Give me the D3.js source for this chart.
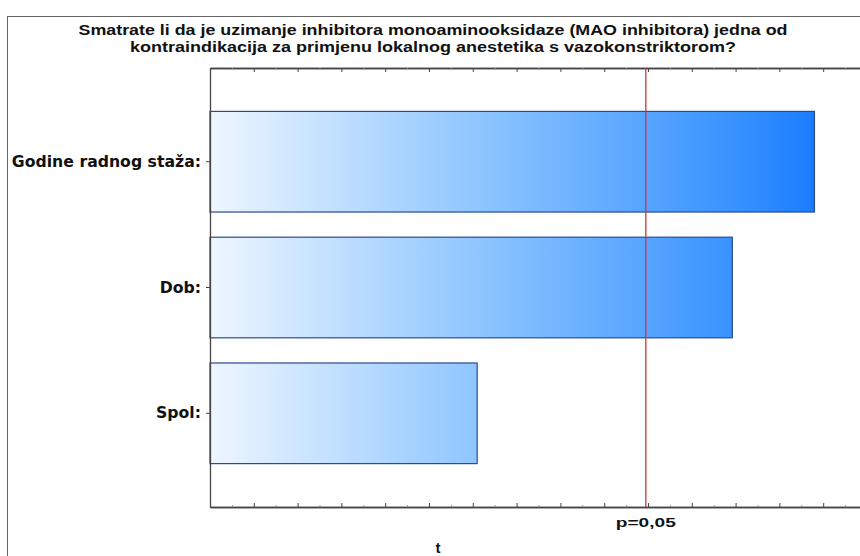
<!DOCTYPE html>
<html>
<head>
<meta charset="utf-8">
<script src="https://cdn.jsdelivr.net/npm/d3@7"></script>
<style>
  body { margin: 0; background: #fff; }
  svg { display: block; }
</style>
</head>
<body>
<div id="chart"></div>
<script>
// Pareto chart of standardized effects (t)
const titleLines = [
  "Smatrate li da je uzimanje inhibitora monoaminooksidaze (MAO inhibitora) jedna od",
  "kontraindikacija za primjenu lokalnog anestetika s vazokonstriktorom?",
];
const categories = ["Godine radnog staža:", "Dob:", "Spol:"];
const tValues = [2.76, 2.385, 1.22];
const critValue = 1.99;
const critLabel = "p=0,05";
const xTitle = "t";

const width = 860;
const height = 556;
const plot = { left: 210, top: 68, right: 867, bottom: 507 };
// the reference image is stretched sideways, so text is widened to fit
const titleWidths = [709, 606];

const svg = d3
  .select("#chart")
  .append("svg")
  .attr("width", width)
  .attr("height", height);

// outer frame
svg
  .append("rect")
  .attr("x", 7.5)
  .attr("y", 16.5)
  .attr("width", 900)
  .attr("height", 600)
  .attr("fill", "none")
  .attr("stroke", "#666");

svg
  .selectAll(".title")
  .data(titleLines)
  .join("text")
  .attr("class", "title")
  .attr("x", 433)
  .attr("y", (d, i) => 35 + i * 16.5)
  .attr("text-anchor", "middle")
  .attr("font-family", "Liberation Sans, Arial, sans-serif")
  .attr("font-weight", "bold")
  .attr("font-size", "14.5px")
  .attr("fill", "#111")
  .attr("textLength", (d, i) => titleWidths[i])
  .attr("lengthAdjust", "spacingAndGlyphs")
  .text((d) => d);

const x = d3.scaleLinear().domain([0, 3]).range([plot.left, plot.right]);

const y = d3
  .scaleBand()
  .domain(categories)
  .range([plot.top, plot.bottom])
  .paddingInner(0.2)
  .paddingOuter(0.345);

const defs = svg.append("defs");
const grad = defs
  .append("linearGradient")
  .attr("id", "barGrad")
  .attr("gradientUnits", "userSpaceOnUse")
  .attr("x1", x(0))
  .attr("x2", x(tValues[0]))
  .attr("y1", 0)
  .attr("y2", 0);
grad.append("stop").attr("offset", "0%").attr("stop-color", "#eef6ff");
grad.append("stop").attr("offset", "44%").attr("stop-color", "#8fc6ff");
grad.append("stop").attr("offset", "86%").attr("stop-color", "#3a93ff");
grad.append("stop").attr("offset", "100%").attr("stop-color", "#1a7dff");

svg
  .selectAll(".bar")
  .data(categories)
  .join("rect")
  .attr("class", "bar")
  .attr("x", x(0))
  .attr("y", (d) => y(d))
  .attr("width", (d, i) => x(tValues[i]) - x(0))
  .attr("height", y.bandwidth())
  .attr("fill", "url(#barGrad)")
  .attr("stroke", "#2b4a90")
  .attr("stroke-width", 1.2);

// axes: major ticks every 0.2, minor between
const majorTicks = d3.range(0, 3.01, 0.2);
const minorTicks = d3.range(0.1, 3.01, 0.2);

const xBottom = svg
  .append("g")
  .attr("transform", `translate(0, ${plot.bottom})`)
  .call(d3.axisTop(x).tickValues(majorTicks).tickSize(4).tickSizeOuter(0).tickFormat(""));
const xBottomMinor = svg
  .append("g")
  .attr("transform", `translate(0, ${plot.bottom})`)
  .call(d3.axisTop(x).tickValues(minorTicks).tickSize(2).tickSizeOuter(0).tickFormat(""));
const xTop = svg
  .append("g")
  .attr("transform", `translate(0, ${plot.top})`)
  .call(d3.axisBottom(x).tickValues(majorTicks).tickSize(4).tickSizeOuter(0).tickFormat(""));
const xTopMinor = svg
  .append("g")
  .attr("transform", `translate(0, ${plot.top})`)
  .call(d3.axisBottom(x).tickValues(minorTicks).tickSize(2).tickSizeOuter(0).tickFormat(""));

const yLeft = svg
  .append("g")
  .attr("transform", `translate(${plot.left}, 0)`)
  .call(d3.axisLeft(y).tickSize(4).tickSizeOuter(0).tickPadding(5));

[xBottom, xBottomMinor, xTop, xTopMinor, yLeft].forEach((g) => {
  g.selectAll("path").attr("stroke", "#444").attr("stroke-width", 1.3);
  g.selectAll("line").attr("stroke", "#444");
});
[xBottomMinor, xTopMinor].forEach((g) => {
  g.selectAll("line").attr("stroke", "#999");
});

yLeft
  .selectAll("text")
  .attr("font-family", "DejaVu Sans, Verdana, sans-serif")
  .attr("font-weight", "bold")
  .attr("font-size", "15.7px")
  .attr("fill", "#111");

// critical value line
svg
  .append("line")
  .attr("x1", x(critValue))
  .attr("x2", x(critValue))
  .attr("y1", plot.top)
  .attr("y2", plot.bottom)
  .attr("stroke", "#d9302c")
  .attr("stroke-width", 1.3);

svg
  .append("text")
  .attr("x", x(critValue))
  .attr("y", 527)
  .attr("text-anchor", "middle")
  .attr("font-family", "Liberation Sans, Arial, sans-serif")
  .attr("font-weight", "bold")
  .attr("font-size", "13.5px")
  .attr("fill", "#111")
  .attr("textLength", 60)
  .attr("lengthAdjust", "spacingAndGlyphs")
  .text(critLabel);

svg
  .append("text")
  .attr("x", 438)
  .attr("y", 553)
  .attr("text-anchor", "middle")
  .attr("font-family", "Liberation Sans, Arial, sans-serif")
  .attr("font-weight", "bold")
  .attr("font-size", "15px")
  .attr("fill", "#111")
  .text(xTitle);
</script>
</body>
</html>
